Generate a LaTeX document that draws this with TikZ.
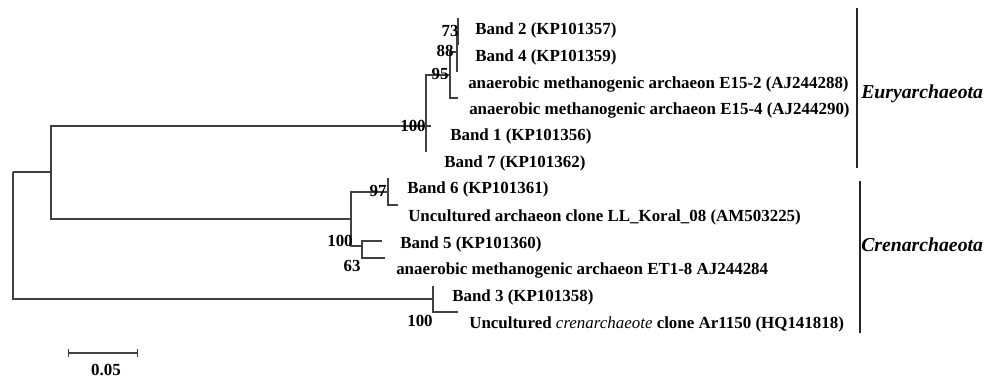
\documentclass[tikz,border=0pt]{standalone}
\usepackage{fontspec}
\setmainfont{Liberation Serif}
\usetikzlibrary{arrows.meta}

\begin{document}
\begin{tikzpicture}[x=0.75pt, y=-0.75pt,
  branch/.style={draw=black!75, line width=0.8pt},
  taxon/.style={anchor=base west, inner sep=0pt, font=\fontsize{12.7}{14}\selectfont\bfseries},
  boot/.style={inner sep=0pt, font=\fontsize{12.7}{14}\selectfont\bfseries},
  cladebar/.style={draw=black!85, line width=1pt},
  clade/.style={anchor=west, inner sep=0pt, font=\fontsize{14.8}{16}\selectfont\bfseries\itshape},]
\useasboundingbox (0,0) rectangle (988,379);
% internal nodes
\coordinate (r) at (13,172);
\coordinate (a) at (51,172);
\coordinate (e) at (426,126);
\coordinate (n95) at (450,75);
\coordinate (n88) at (457,52);
\coordinate (n73) at (458,31);
\coordinate (c) at (351,219);
\coordinate (n97) at (388,192);
\coordinate (n63) at (362,246);
\coordinate (b) at (433,299);
% tips
\coordinate (t1) at (458,18);
\coordinate (t2) at (458,45);
\coordinate (t3) at (457,72);
\coordinate (t4) at (458,98);
\coordinate (t5) at (431,126);
\coordinate (t6) at (426,152);
\coordinate (t7) at (388,178);
\coordinate (t8) at (398,205);
\coordinate (t9) at (382,241);
\coordinate (t10) at (385,258);
\coordinate (t11) at (433,286);
\coordinate (t12) at (458,312);
\foreach \p/\q in {r/a, r/b, a/e, a/c, e/n95, e/t5, e/t6, n95/n88, n95/t4,
  n88/n73, n88/t3, n73/t1, n73/t2, c/n97, c/n63, n97/t7, n97/t8,
  n63/t9, n63/t10, b/t11, b/t12}
  \draw[branch] (\p) |- (\q);
\node[taxon] (l1) at (475,34) {Band 2 (KP101357)};
\node[taxon] (l2) at (475,61) {Band 4 (KP101359)};
\node[taxon] (l3) at (468,88) {anaerobic methanogenic archaeon E15-2 (AJ244288)};
\node[taxon] (l4) at (469,114) {anaerobic methanogenic archaeon E15-4 (AJ244290)};
\node[taxon] (l5) at (450,140) {Band 1 (KP101356)};
\node[taxon] (l6) at (444,167) {Band 7 (KP101362)};
\node[taxon] (l7) at (407,193) {Band 6 (KP101361)};
\node[taxon] (l8) at (408,221) {Uncultured archaeon clone LL\_Koral\_08 (AM503225)};
\node[taxon] (l9) at (400,248) {Band 5 (KP101360)};
\node[taxon] (l10) at (396,274) {anaerobic methanogenic archaeon ET1-8 AJ244284};
\node[taxon] (l11) at (452,301) {Band 3 (KP101358)};
\node[taxon] (l12) at (469,328) {Uncultured {\mdseries\itshape crenarchaeote} clone Ar1150 (HQ141818)};
% bootstrap values
\node[boot] (b73) at (450,31) {73};
\node[boot] (b88) at (445,51) {88};
\node[boot] (b95) at (440,74) {95};
\node[boot] (b100e) at (413,126) {100};
\node[boot] (b97) at (378,191) {97};
\node[boot] (b100c) at (340,241) {100};
\node[boot] (b63) at (352,266) {63};
\node[boot] (b100b) at (420,321) {100};
% clades
\coordinate (eu1) at (857,8);
\coordinate (eu2) at (857,168);
\coordinate (cr1) at (860,181);
\coordinate (cr2) at (860,333);
\draw[cladebar] (eu1) -- (eu2);
\draw[cladebar] (cr1) -- (cr2);
\node[clade] (eury) at (861,94) {Euryarchaeota};
\node[clade] (cren) at (861,245) {Crenarchaeota};
% scale
\coordinate (s1) at (68,353);
\coordinate (s2) at (138,353);
\draw[branch, {Bar[width=6pt]}-{Bar[width=6pt]}] (s1) -- (s2);
\node[boot] (sc) at (106,370) {0.05};
\end{tikzpicture}
\end{document}
